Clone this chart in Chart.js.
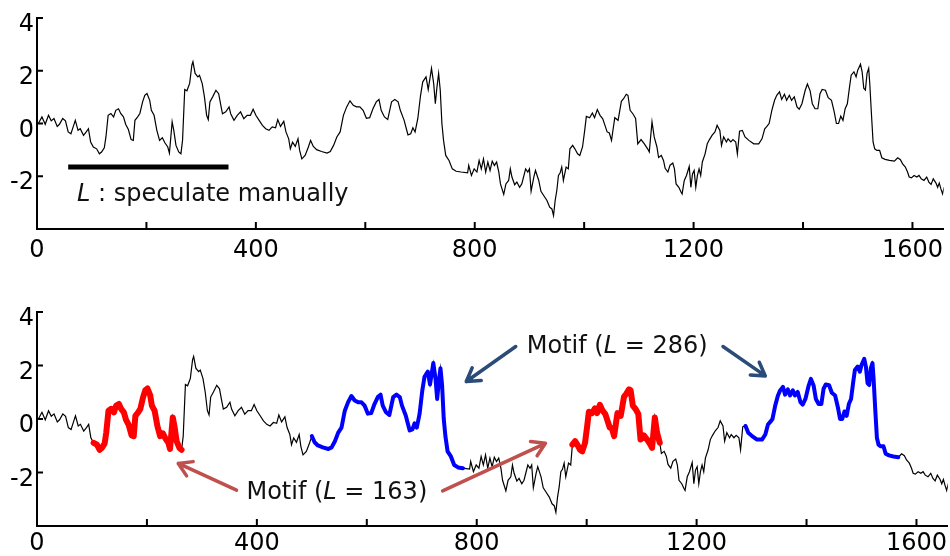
<!DOCTYPE html>
<html>
<head>
<meta charset="utf-8">
<script src="https://cdn.jsdelivr.net/npm/chart.js@4"></script>
<style>
    body { margin: 0; background: #fff; }
    canvas { position: absolute; left: 0; }
    #upperChart { top: 0; }
    #lowerChart { top: 278px; }
</style>
</head>
<body>
<canvas id="upperChart" width="950" height="278"></canvas>
<canvas id="lowerChart" width="950" height="278"></canvas>
<script>
// time series: sample index and value
const sample_index = [
    3, 9, 15, 21, 26, 31, 37, 41, 47, 52, 57, 62, 67, 70, 75, 79, 85, 90, 94, 98,
    103, 109, 114, 118, 123, 126, 130, 135, 140, 144, 149, 153, 158, 162, 167, 172, 176, 179, 184, 188,
    193, 197, 201, 206, 209, 214, 219, 224, 229, 234, 239, 242, 247, 250, 254, 259, 263, 266, 270, 274,
    279, 283, 285, 289, 294, 297, 302, 306, 310, 313, 316, 321, 327, 332, 336, 339, 345, 351, 354, 360,
    366, 372, 378, 384, 390, 395, 400, 406, 412, 418, 424, 430, 436, 440, 445, 451, 455, 460, 463, 467,
    472, 477, 480, 484, 490, 496, 500, 505, 511, 520, 530, 536, 542, 548, 554, 560, 566, 572, 578, 584,
    590, 596, 602, 608, 614, 620, 625, 629, 635, 641, 648, 654, 660, 664, 671, 675, 678, 683, 687, 691,
    696, 701, 705, 711, 715, 721, 725, 728, 731, 734, 737, 740, 743, 747, 753, 759, 766, 775, 787, 789,
    794, 799, 804, 808, 812, 816, 820, 824, 828, 832, 836, 840, 844, 847, 853, 857, 862, 865, 868, 873,
    877, 882, 886, 893, 897, 900, 903, 908, 911, 917, 921, 926, 932, 937, 941, 944, 947, 950, 953, 956,
    959, 962, 967, 971, 974, 979, 983, 988, 992, 997, 1001, 1004, 1010, 1015, 1019, 1024, 1029, 1034, 1038, 1042,
    1046, 1050, 1053, 1056, 1062, 1068, 1072, 1077, 1080, 1084, 1089, 1094, 1098, 1104, 1110, 1116, 1119, 1124, 1128, 1133,
    1136, 1141, 1145, 1148, 1153, 1157, 1162, 1165, 1168, 1173, 1177, 1179, 1183, 1187, 1192, 1195, 1198, 1201, 1204, 1207,
    1210, 1213, 1216, 1221, 1225, 1229, 1234, 1239, 1243, 1248, 1251, 1255, 1260, 1263, 1268, 1272, 1277, 1280, 1284, 1289,
    1294, 1301, 1310, 1319, 1325, 1330, 1334, 1338, 1343, 1348, 1352, 1357, 1361, 1366, 1370, 1375, 1379, 1384, 1389, 1393,
    1398, 1404, 1408, 1413, 1417, 1422, 1427, 1431, 1435, 1441, 1446, 1452, 1457, 1461, 1465, 1469, 1473, 1477, 1481, 1485,
    1488, 1493, 1497, 1500, 1505, 1508, 1511, 1514, 1517, 1520, 1522, 1525, 1528, 1531, 1535, 1540, 1544, 1550, 1558, 1567,
    1573, 1578, 1582, 1587, 1591, 1594, 1598, 1603, 1608, 1612, 1616, 1621, 1626, 1630, 1634, 1638, 1643, 1646, 1649, 1652,
    1655, 1658,
];
const sample_value = [
    0.02, 0.25, -0.03, 0.31, 0.10, 0.19, -0.11, -0.03, 0.19, 0.10, -0.32, -0.39, -0.07, 0.12, -0.26, -0.20, -0.45, -0.32, -0.20, -0.70,
    -0.89, -0.96, -1.15, -1.08, -0.92, -0.51, 0.31, 0.38, 0.25, 0.50, 0.56, 0.38, 0.25, -0.03, -0.23, -0.61, -0.64, 0.12, 0.25, 0.38,
    0.82, 1.07, 1.14, 0.88, 0.50, 0.31, -0.26, -0.64, -0.54, -0.74, -0.89, -1.12, 0.06, -0.26, -0.83, -1.08, -1.15, -0.64, 1.29, 1.24,
    1.52, 2.21, 2.34, 1.90, 1.77, 1.83, 1.51, 1.01, 0.31, 0.15, 0.82, 1.01, 1.26, 1.13, 0.69, 0.37, 0.44, 0.63, 0.37, 0.12,
    0.31, 0.44, 0.18, 0.31, 0.31, 0.54, 0.31, 0.12, -0.07, -0.20, -0.26, -0.13, -0.16, 0.15, -0.11, 0.08, -0.32, -0.58, -0.96, -0.71,
    -0.87, -0.58, -1.02, -1.34, -1.21, -0.89, -0.64, -0.87, -0.99, -1.06, -1.12, -1.06, -0.83, -0.51, -0.32, 0.31, 0.63, 0.86, 0.69, 0.63,
    0.63, 0.50, 0.20, 0.22, 0.56, 0.82, 0.91, 0.50, 0.25, 0.15, 0.82, 0.91, 0.82, 0.50, 0.12, -0.20, -0.43, -0.39, -0.16, -0.32,
    0.19, 1.07, 1.58, 1.77, 1.29, 2.09, 1.51, 0.75, 1.39, 1.90, 1.26, 0.00, -0.64, -1.21, -1.40, -1.72, -1.81, -1.84, -1.87, -1.59,
    -1.97, -1.72, -1.84, -1.40, -1.72, -1.34, -1.84, -1.46, -1.78, -1.43, -1.59, -1.46, -1.84, -2.29, -2.69, -2.29, -2.16, -1.72, -2.03, -2.32,
    -2.22, -2.42, -2.29, -1.72, -1.84, -1.72, -2.57, -2.03, -1.78, -2.16, -2.57, -2.73, -2.92, -3.17, -3.24, -3.49, -2.92, -2.54, -1.97, -1.88,
    -1.65, -2.16, -1.65, -1.72, -0.96, -0.83, -0.96, -1.15, -1.21, -0.89, -0.26, 0.27, 0.22, 0.40, 0.22, 0.53, 0.31, 0.18, -0.07, -0.32,
    -0.36, -0.64, -0.20, 0.22, 0.12, 0.84, 0.94, 1.11, 1.07, 0.50, 0.37, 0.19, -0.77, -0.61, -0.77, -0.96, -1.08, 0.06, -0.51, -0.89,
    -1.29, -1.21, -1.40, -1.70, -1.84, -1.58, -1.50, -1.72, -2.29, -2.42, -2.60, -2.67, -2.16, -1.97, -1.63, -2.42, -1.91, -1.78, -2.42, -1.97,
    -1.72, -1.97, -1.46, -1.15, -0.77, -0.61, -0.44, -0.32, -0.07, -0.26, -0.83, -0.51, -0.70, -0.58, -0.70, -0.61, -0.70, -1.15, -0.29, -0.26,
    -0.51, -0.64, -0.77, -0.77, -0.58, -0.20, -0.11, 0.00, 0.50, 0.88, 1.07, 1.20, 0.91, 1.11, 0.88, 1.07, 0.88, 1.01, 0.63, 0.54,
    0.75, 1.26, 1.50, 1.24, 0.75, 0.56, 0.56, 1.13, 1.29, 1.26, 0.98, 0.88, 0.44, 0.00, 0.00, 0.28, 0.12, 0.56, 0.75, 1.39,
    1.83, 1.96, 1.77, 2.02, 2.25, 1.96, 1.34, 1.27, 1.90, 2.09, 1.51, 0.37, -0.70, -0.96, -1.02, -1.02, -1.30, -1.36, -1.40, -1.43,
    -1.30, -1.37, -1.53, -1.65, -1.84, -2.03, -2.06, -1.97, -2.03, -1.97, -2.10, -2.16, -2.03, -2.22, -2.31, -2.10, -2.26, -2.42, -2.26, -2.48,
    -2.67, -2.41,
];

// motif occurrences (start index) and their lengths
const short_motif_starts = [100, 972];
const short_motif_length = 163;
const long_motif_starts = [500, 1286];
const long_motif_length = 286;

// span of the manually guessed length bar
const guess_bar_x = [57, 350];
const guess_bar_y = -1.65;

const x_tick_values = [0, 200, 400, 600, 800, 1000, 1200, 1400, 1600];
const y_tick_values = [-4, -2, 0, 2, 4];

const FONT = "'DejaVu Sans', sans-serif";

function seriesPoints() {
    return sample_index.map((x, i) => ({ x: x, y: sample_value[i] }));
}

function motifPoints(start, length) {
    return seriesPoints().filter((p) => p.x >= start && p.x <= start + length);
}

function makeScales(xAxisHeight, xLabelPad) {
    return {
        x: {
            type: "linear",
            min: 0,
            max: 1657,
            afterBuildTicks: (scale) => {
                scale.ticks = x_tick_values.map((v) => ({ value: v }));
            },
            afterFit: (scale) => {
                scale.height = xAxisHeight;
            },
            grid: { display: false, drawTicks: false },
            border: { display: true, color: "#000", width: 2 },
            ticks: {
                autoSkip: false,
                maxRotation: 0,
                padding: xLabelPad,
                color: "#000",
                font: { family: FONT, size: 24 },
                callback: (v) => (v % 400 === 0 ? String(v) : ""),
            },
        },
        y: {
            type: "linear",
            min: -4,
            max: 4,
            afterBuildTicks: (scale) => {
                scale.ticks = y_tick_values.map((v) => ({ value: v }));
            },
            afterFit: (scale) => {
                scale.width = 37;
            },
            grid: { display: false, drawTicks: false },
            border: { display: true, color: "#000", width: 2 },
            ticks: {
                padding: 3,
                labelOffset: 7,
                color: "#000",
                font: { family: FONT, size: 24 },
                callback: (v) => (v === -4 ? "" : String(v)),
            },
        },
    };
}

// short tick marks pointing into the plot area
const inwardTicks = {
    id: "inwardTicks",
    afterDatasetsDraw(chart) {
        const { ctx, chartArea, scales } = chart;
        ctx.save();
        ctx.strokeStyle = "#000";
        ctx.lineWidth = 2;
        ctx.beginPath();
        x_tick_values.forEach((v) => {
            if (v === 0) return;
            const px = scales.x.getPixelForValue(v);
            ctx.moveTo(px, chartArea.bottom);
            ctx.lineTo(px, chartArea.bottom - 7);
        });
        y_tick_values.forEach((v) => {
            if (v === -4) return;
            const py = scales.y.getPixelForValue(v);
            ctx.moveTo(chartArea.left, py);
            ctx.lineTo(chartArea.left + 6, py);
        });
        ctx.stroke();
        ctx.restore();
    },
};

// text made of plain and italic pieces, left aligned on a baseline
function drawPieces(ctx, pieces, x, y) {
    let cx = x;
    ctx.fillStyle = "#111";
    ctx.textBaseline = "alphabetic";
    ctx.textAlign = "left";
    pieces.forEach(([text, italic]) => {
        ctx.font = (italic ? "italic " : "") + "24px " + FONT;
        ctx.fillText(text, cx, y);
        cx += ctx.measureText(text).width;
    });
}

function drawArrow(ctx, x1, y1, x2, y2, color) {
    const angle = Math.atan2(y2 - y1, x2 - x1);
    const head = 15;
    ctx.save();
    ctx.strokeStyle = color;
    ctx.lineWidth = 3.5;
    ctx.lineCap = "round";
    ctx.lineJoin = "round";
    ctx.beginPath();
    ctx.moveTo(x1, y1);
    ctx.lineTo(x2, y2);
    ctx.moveTo(x2 - head * Math.cos(angle - 0.55), y2 - head * Math.sin(angle - 0.55));
    ctx.lineTo(x2, y2);
    ctx.lineTo(x2 - head * Math.cos(angle + 0.55), y2 - head * Math.sin(angle + 0.55));
    ctx.stroke();
    ctx.restore();
}

const upperNotes = {
    id: "upperNotes",
    afterDatasetsDraw(chart) {
        const { ctx, scales } = chart;
        ctx.save();
        drawPieces(ctx, [["L", true], [" : speculate manually", false]],
            scales.x.getPixelForValue(73), scales.y.getPixelForValue(-2.92));
        ctx.restore();
    },
};

const lowerNotes = {
    id: "lowerNotes",
    afterDatasetsDraw(chart) {
        const { ctx, scales } = chart;
        const px = (v) => scales.x.getPixelForValue(v);
        const py = (v) => scales.y.getPixelForValue(v);
        ctx.save();
        drawPieces(ctx, [["Motif (", false], ["L", true], [" = " + long_motif_length + ")", false]],
            px(891), py(2.47));
        drawPieces(ctx, [["Motif (", false], ["L", true], [" = " + short_motif_length + ")", false]],
            px(381), py(-2.98));
        drawArrow(ctx, px(871), py(2.71), px(781), py(1.40), "#2b4b78");
        drawArrow(ctx, px(1248), py(2.71), px(1325), py(1.61), "#2b4b78");
        drawArrow(ctx, px(363), py(-2.66), px(257), py(-1.66), "#c0504d");
        drawArrow(ctx, px(738), py(-2.69), px(925), py(-0.91), "#c0504d");
        ctx.restore();
    },
};

function baseOptions(topPad, xAxisHeight, xLabelPad) {
    return {
        responsive: false,
        animation: false,
        events: [],
        layout: { padding: { top: topPad, left: 0, right: 0, bottom: 0 } },
        plugins: { legend: { display: false }, tooltip: { enabled: false } },
        elements: { point: { radius: 0 }, line: { tension: 0 } },
        scales: makeScales(xAxisHeight, xLabelPad),
    };
}

function seriesDataset() {
    return {
        data: seriesPoints(),
        borderColor: "#000",
        borderWidth: 1.2,
        order: 2,
    };
}

function drawUpperChart() {
    new Chart(document.getElementById("upperChart"), {
        type: "line",
        data: {
            datasets: [
                seriesDataset(),
                {
                    data: guess_bar_x.map((x) => ({ x: x, y: guess_bar_y })),
                    borderColor: "#000",
                    borderWidth: 5,
                    borderCapStyle: "butt",
                    order: 1,
                },
            ],
        },
        options: baseOptions(18, 49, 7),
        plugins: [inwardTicks, upperNotes],
    });
}

function drawLowerChart() {
    const motifSets = [];
    short_motif_starts.forEach((start) => {
        motifSets.push({
            data: motifPoints(start, short_motif_length),
            borderColor: "#ff0000",
            borderWidth: 6,
            borderCapStyle: "round",
            borderJoinStyle: "round",
            order: 1,
        });
    });
    long_motif_starts.forEach((start) => {
        motifSets.push({
            data: motifPoints(start, long_motif_length),
            borderColor: "#0000ff",
            borderWidth: 4,
            borderCapStyle: "round",
            borderJoinStyle: "round",
            order: 1,
        });
    });

    new Chart(document.getElementById("lowerChart"), {
        type: "line",
        data: { datasets: [seriesDataset()].concat(motifSets) },
        options: baseOptions(34, 30, 3),
        plugins: [inwardTicks, lowerNotes],
    });
}

drawUpperChart();
drawLowerChart();
</script>
</body>
</html>
